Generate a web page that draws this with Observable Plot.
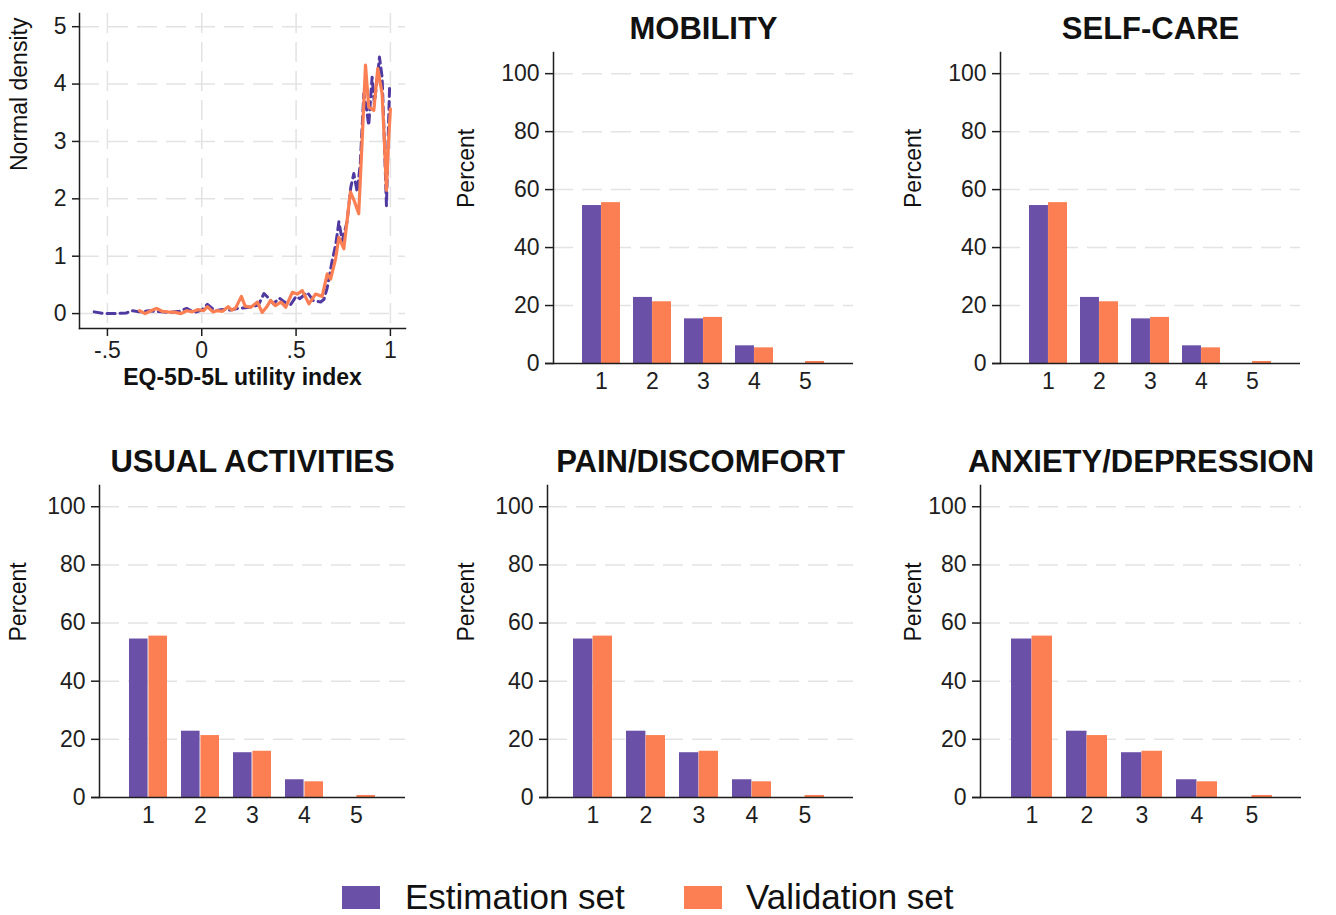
<!DOCTYPE html>
<html>
<head>
<meta charset="utf-8">
<script src="https://cdn.jsdelivr.net/npm/d3@7"></script>
<script src="https://cdn.jsdelivr.net/npm/@observablehq/plot@0.6"></script>
<style>
  body { margin: 0; background: #fff; font-family: "Liberation Sans", Arial, sans-serif; }
  #root { position: relative; width: 1336px; height: 915px; overflow: hidden; background: #fff; }
  .panel { position: absolute; }
  .panel svg { display: block; overflow: visible; }
  .lg-swatch { position: absolute; width: 38px; height: 23px; }
  .lg-text { position: absolute; font-size: 35px; line-height: 30px; color: #111; white-space: nowrap; }
</style>
</head>
<body>
<div id="root"></div>
<script>
// ---------------- data ----------------
const levels = [1, 2, 3, 4, 5];
const seriesNames = ["Estimation set", "Validation set"];
const estimationPct = [54.5, 22.8, 15.4, 6.1, 0.0];
const validationPct = [55.5, 21.3, 15.9, 5.4, 0.7];
const dimensions = ["MOBILITY", "SELF-CARE", "USUAL ACTIVITIES", "PAIN/DISCOMFORT", "ANXIETY/DEPRESSION"];
const percentTicks = [0, 20, 40, 60, 80, 100];

const densityXTicks = [-0.5, 0, 0.5, 1];
const densityYTicks = [0, 1, 2, 3, 4, 5];
// Estimation set (dashed) density curve
const estUtility = [-0.57,-0.52,-0.46,-0.40,-0.37,-0.33,-0.28,-0.22,-0.17,-0.12,-0.08,-0.04,0.0,0.03,0.07,0.11,0.15,0.19,0.23,0.27,0.30,0.33,0.36,0.38,0.41,0.44,0.47,0.50,0.52,0.56,0.59,0.63,0.648,0.665,0.69,0.71,0.727,0.745,0.77,0.79,0.806,0.824,0.84,0.859,0.872,0.885,0.903,0.915,0.93,0.942,0.956,0.968,0.979,0.99,0.996];
const estDensity = [0.03,0.0,0.0,0.01,0.05,0.03,0.05,0.03,0.02,0.04,0.09,0.02,0.06,0.16,0.05,0.07,0.06,0.09,0.10,0.12,0.15,0.35,0.25,0.17,0.27,0.20,0.15,0.30,0.26,0.37,0.23,0.20,0.25,0.45,0.90,1.20,1.60,1.27,1.60,2.20,2.44,2.12,2.60,3.83,3.60,3.28,4.12,3.66,4.10,4.47,4.12,3.00,1.88,3.30,3.98];
// Validation set (solid) density curve
const valUtility = [-0.33,-0.30,-0.27,-0.24,-0.21,-0.18,-0.14,-0.11,-0.08,-0.05,-0.02,0.01,0.03,0.06,0.08,0.11,0.14,0.16,0.18,0.21,0.23,0.26,0.295,0.32,0.345,0.365,0.39,0.42,0.445,0.48,0.506,0.533,0.568,0.603,0.638,0.665,0.683,0.709,0.727,0.753,0.788,0.81,0.832,0.85,0.868,0.885,0.912,0.933,0.956,0.968,0.979,0.99,1.0];
const valDensity = [0.05,0.0,0.05,0.09,0.04,0.03,0.02,0.0,0.05,0.03,0.07,0.05,0.12,0.03,0.05,0.04,0.12,0.06,0.10,0.30,0.13,0.11,0.20,0.02,0.12,0.23,0.14,0.20,0.11,0.37,0.34,0.40,0.17,0.34,0.30,0.69,0.60,0.95,1.33,1.13,2.12,1.95,1.74,3.00,4.33,3.60,3.54,4.27,3.83,3.00,2.15,3.00,3.57];

// ---------------- style ----------------
const PURPLE = "#6a50a7";
const PURPLE_LINE = "#5039a0";
const ORANGE = "#fc7f53";
const AXIS = "#1e1e1e";
const GRID = "#e3e3e3";
const FONT = "'Liberation Sans', Arial, Helvetica, sans-serif";

const root = document.getElementById("root");
function place(node, left, top, width) {
  const d = document.createElement("div");
  d.className = "panel";
  d.style.left = left + "px";
  d.style.top = top + "px";
  d.style.width = width + "px";
  d.appendChild(node);
  root.appendChild(d);
}

// ---------------- density panel ----------------
{
  const est = estUtility.map((u, i) => ({u, d: estDensity[i]}));
  const val = valUtility.map((u, i) => ({u, d: valDensity[i]}));
  const fmtX = d => d === 0 ? "0" : String(d).replace(/^(-?)0\./, "$1.");
  const fmtY = d => String(d);
  const chart = Plot.plot({
    width: 420, height: 400,
    marginLeft: 79, marginRight: 15, marginTop: 13, marginBottom: 72,
    style: {fontFamily: FONT, background: "transparent", color: AXIS, overflow: "visible"},
    x: {domain: [-0.648, 1.08], label: null},
    y: {domain: [-0.26, 5.23], label: null},
    marks: [
      Plot.gridY(densityYTicks, {stroke: GRID, strokeOpacity: 1, strokeWidth: 1.5, strokeDasharray: "20,9"}),
      Plot.gridX(densityXTicks, {stroke: GRID, strokeOpacity: 1, strokeWidth: 1.5, strokeDasharray: "20,9"}),
      Plot.line(est, {x: "u", y: "d", stroke: PURPLE_LINE, strokeWidth: 3, strokeDasharray: "8,5"}),
      Plot.line(val, {x: "u", y: "d", stroke: ORANGE, strokeWidth: 3.2}),
      Plot.frame({anchor: "left", stroke: AXIS, strokeWidth: 1.5}),
      Plot.frame({anchor: "bottom", stroke: AXIS, strokeWidth: 1.5}),
      Plot.axisY(densityYTicks, {tickSize: 7, tickPadding: 6, fontSize: 23, tickFormat: fmtY, label: null, strokeWidth: 1.5}),
      Plot.axisX(densityXTicks, {tickSize: 8, tickPadding: 5, fontSize: 23, tickFormat: fmtX, label: null, strokeWidth: 1.5}),
      Plot.text(["EQ-5D-5L utility index"], {frameAnchor: "bottom", dy: 49, fontSize: 23, fontWeight: "bold", lineAnchor: "middle", fill: "#111"}),
      Plot.text(["Normal density"], {frameAnchor: "left", dx: -60, rotate: -90, fontSize: 23, lineAnchor: "middle", fill: "#111"})
    ]
  });
  place(chart, 0, 0, 420);
}

// ---------------- bar panels ----------------
const table = levels.map((level, i) => ({level, est: estimationPct[i], val: validationPct[i]}));
const PAD = 0.26;

function barPanel(cfg) {
  const {title, left, top, width, height, mTop, mBottom, axisX, frameRight, c1, c5, percentDx} = cfg;
  const step = (c5 - c1) / 4;
  const half = step * (1 - PAD) / 2;
  const r0 = c1 - left - step * (0.5 + PAD / 2);
  const r1 = c5 - left + step * (0.5 + PAD / 2);
  const chart = Plot.plot({
    width, height,
    marginLeft: axisX - left, marginRight: left + width - frameRight,
    marginTop: mTop, marginBottom: mBottom,
    style: {fontFamily: FONT, background: "transparent", color: AXIS, overflow: "visible"},
    x: {type: "band", domain: levels, range: [r0, r1], padding: PAD, label: null},
    y: {domain: [0, 107.3], label: null},
    marks: [
      Plot.gridY(percentTicks.filter(t => t > 0), {stroke: GRID, strokeOpacity: 1, strokeWidth: 1.5, strokeDasharray: "20,9"}),
      Plot.barY(table, {x: "level", y: "est", fill: PURPLE, insetRight: half}),
      Plot.barY(table, {x: "level", y: "val", fill: ORANGE, insetLeft: half}),
      Plot.ruleY([0], {stroke: AXIS, strokeWidth: 1.5, insetLeft: -8}),
      Plot.frame({anchor: "left", stroke: AXIS, strokeWidth: 1.5}),
      Plot.axisY(percentTicks, {tickSize: 8, tickPadding: 6, fontSize: 23, label: null, strokeWidth: 1.5}),
      Plot.axisX(levels, {tickSize: 0, tickPadding: 9, fontSize: 23, label: null}),
      Plot.text([title], {frameAnchor: "top", dy: -14, lineAnchor: "bottom", fontSize: 31, fontWeight: "bold", fill: "#111"}),
      Plot.text(["Percent"], {frameAnchor: "left", dx: -percentDx, rotate: -90, fontSize: 23, lineAnchor: "middle", fill: "#111"})
    ]
  });
  place(chart, left, top, width);
}

const TOP = {top: 0, height: 410, mTop: 52, mBottom: 47};
const BOT = {top: 430, height: 420, mTop: 55, mBottom: 53};
barPanel({title: dimensions[0], ...TOP, left: 440, width: 440, axisX: 553, frameRight: 853, c1: 600, c5: 806, percentDx: 87});
barPanel({title: dimensions[1], ...TOP, left: 880, width: 456, axisX: 1000, frameRight: 1300, c1: 1047, c5: 1253, percentDx: 87});
barPanel({title: dimensions[2], ...BOT, left: 0, width: 440, axisX: 99, frameRight: 405, c1: 147, c5: 357, percentDx: 81});
barPanel({title: dimensions[3], ...BOT, left: 440, width: 440, axisX: 547, frameRight: 853, c1: 593, c5: 805, percentDx: 81});
barPanel({title: dimensions[4], ...BOT, left: 880, width: 456, axisX: 980, frameRight: 1301, c1: 1030, c5: 1252, percentDx: 67});

// ---------------- legend ----------------
const legendItems = [
  {name: seriesNames[0], color: PURPLE, sx: 342, tx: 405},
  {name: seriesNames[1], color: ORANGE, sx: 684, tx: 746}
];
for (const it of legendItems) {
  const sw = document.createElement("div");
  sw.className = "lg-swatch";
  sw.style.left = it.sx + "px";
  sw.style.top = "886px";
  sw.style.background = it.color;
  root.appendChild(sw);
  const tx = document.createElement("div");
  tx.className = "lg-text";
  tx.style.left = it.tx + "px";
  tx.style.top = "882px";
  tx.textContent = it.name;
  root.appendChild(tx);
}
</script>
</body>
</html>
